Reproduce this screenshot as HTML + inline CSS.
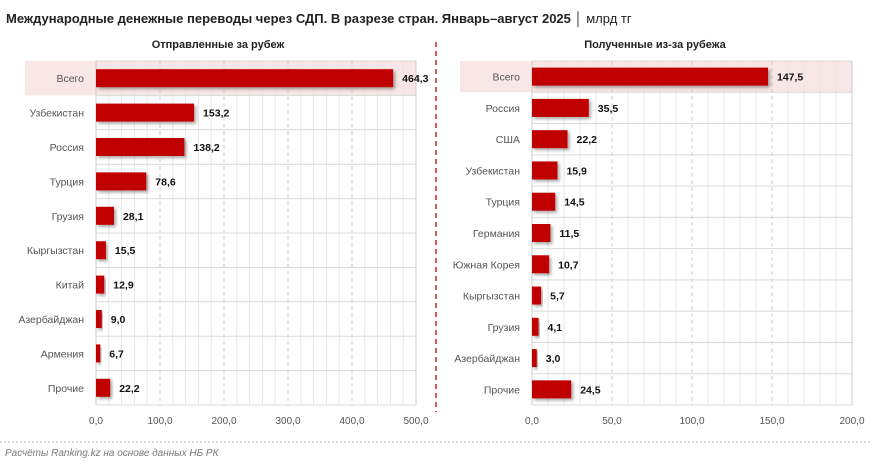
<!DOCTYPE html>
<html><head><meta charset="utf-8"><style>
body{margin:0;background:#fff;font-family:"Liberation Sans",sans-serif;}
svg text{font-family:"Liberation Sans",sans-serif;}
</style></head><body>
<svg id="c" width="872" height="464" xmlns="http://www.w3.org/2000/svg">
<defs><filter id="sh" x="-10%" y="-30%" width="130%" height="180%"><feDropShadow dx="2" dy="2" stdDeviation="1.5" flood-color="#000" flood-opacity="0.35"/></filter></defs>
<text x="6" y="23" font-size="13" font-weight="bold" fill="#222">Международные денежные переводы через СДП. В разрезе стран. Январь–август 2025 <tspan font-weight="normal">│ млрд тг</tspan></text>
<text x="218" y="48" font-size="11" font-weight="bold" text-anchor="middle" fill="#222">Отправленные за рубеж</text>
<text x="655" y="48" font-size="11" font-weight="bold" text-anchor="middle" fill="#222">Полученные из-за рубежа</text>
<line x1="436" y1="42" x2="436" y2="412" stroke="#c00000" stroke-width="1.3" stroke-dasharray="5,4"/>
<line x1="0" y1="442" x2="872" y2="442" stroke="#bbb" stroke-dasharray="2,2"/>
<text x="5" y="456" font-size="10" font-style="italic" fill="#777">Расчёты Ranking.kz на основе данных НБ РК</text>
<g id="gl"></g><g id="gr"></g>
</svg>
<script>
const leftCats=["Всего","Узбекистан","Россия","Турция","Грузия","Кыргызстан","Китай","Азербайджан","Армения","Прочие"];
const leftVals=[464.3,153.2,138.2,78.6,28.1,15.5,12.9,9.0,6.7,22.2];
const leftTicks=[0,100,200,300,400,500];
const rightCats=["Всего","Россия","США","Узбекистан","Турция","Германия","Южная Корея","Кыргызстан","Грузия","Азербайджан","Прочие"];
const rightVals=[147.5,35.5,22.2,15.9,14.5,11.5,10.7,5.7,4.1,3.0,24.5];
const rightTicks=[0,50,100,150,200];
const NS="http://www.w3.org/2000/svg";
function mk(p,t,a){const e=document.createElementNS(NS,t);for(const k in a)e.setAttribute(k,a[k]);p.appendChild(e);return e;}
function panel(g,cats,vals,ticks,x0,x1,hlx,minor,side){
  const top=61,bot=405,max=ticks[ticks.length-1];
  const sx=v=>x0+(x1-x0)*v/max;
  const rh=(bot-top)/cats.length;
  let hl=mk(g,"rect",{x:hlx,y:top,width:x1-hlx,height:rh,fill:"#f9e6e6"});
  
  
  for(let v=0;v<=max+1e-9;v+=minor){
    const isMaj=ticks.some(t=>Math.abs(t-v)<1e-9);
    let l=mk(g,"line",{x1:sx(v),x2:sx(v),y1:top,y2:bot,stroke:isMaj?"#ccc":"#e6e6e6","stroke-dasharray":isMaj&&v>0&&v<max?"4,3":"none"});
    
    
  }
  for(let i=0;i<=cats.length;i++){
    let l=mk(g,"line",{x1:x0,x2:x1,y1:top+i*rh,y2:top+i*rh,stroke:"#d9d9d9"});
    
    
  }
  ticks.forEach(t=>{
    let tx=mk(g,"text",{x:sx(t),y:424,"font-size":10,"text-anchor":"middle",fill:"#555"});
    tx.textContent=t.toFixed(1).replace(".",",");
    
    
  });
  cats.forEach((c,i)=>{
    const cy=top+rh*(i+0.5);
    let lb=mk(g,"text",{x:x0-12,y:cy+4,"font-size":10.5,"text-anchor":"end",fill:"#555"});
    lb.textContent=c;
    
    
    let b=mk(g,"rect",{x:x0,y:cy-9,width:Math.max(0,sx(vals[i])-x0),height:18,fill:"#c00000",filter:"url(#sh)"});
    
    
    let vl=mk(g,"text",{x:sx(vals[i])+9,y:cy+4,"font-size":10.5,"font-weight":"bold",fill:"#111"});
    vl.textContent=vals[i].toFixed(1).replace(".",",");
    
    
  });
}
panel(document.getElementById("gl"),leftCats,leftVals,leftTicks,96,416,25,20,"left");
panel(document.getElementById("gr"),rightCats,rightVals,rightTicks,532,852,460,10,"right");
</script>
</body></html>
